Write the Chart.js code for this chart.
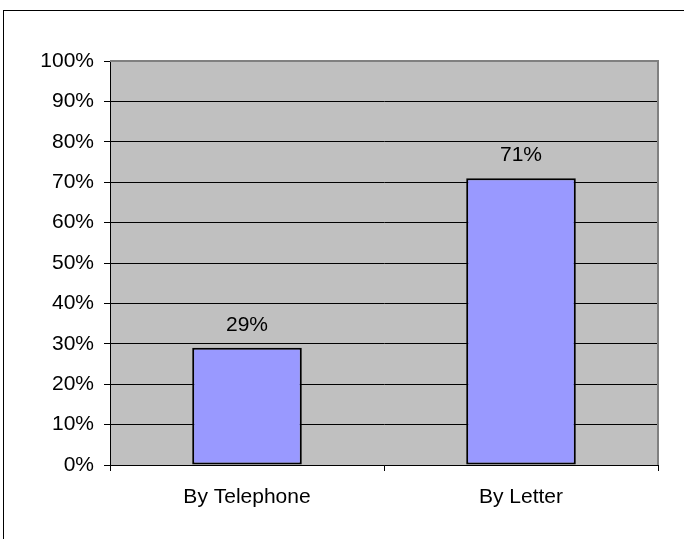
<!DOCTYPE html>
<html>
<head>
<meta charset="utf-8">
<script src="https://cdn.jsdelivr.net/npm/chart.js@4/dist/chart.umd.min.js"></script>
<style>
  html, body { margin: 0; padding: 0; background: #fff; }
  canvas { display: block; }
</style>
</head>
<body>
<canvas id="grafico" width="684" height="539"></canvas>
<script>
// Dati del grafico
const categorie = ['By Telephone', 'By Letter'];
const valori = [29, 71];
const tickY = [0, 10, 20, 30, 40, 50, 60, 70, 80, 90, 100];

const FONT = "'Liberation Sans', Arial, sans-serif";

// Plugin: bordo esterno, sfondo area grafico, bordi grigi, etichette
const decorazioni = {
    id: 'decorazioni',
    beforeDraw(chart) {
        const { ctx, chartArea: a } = chart;
        ctx.save();
        ctx.fillStyle = '#ffffff';
        ctx.fillRect(0, 0, chart.width, chart.height);
        // bordo esterno (lato sinistro e superiore)
        ctx.strokeStyle = '#000';
        ctx.lineWidth = 1;
        ctx.strokeRect(3.5, 10.5, chart.width + 10, chart.height + 10);
        // sfondo area
        ctx.fillStyle = '#c0c0c0';
        ctx.fillRect(a.left, a.top, a.right - a.left, a.bottom - a.top);
        ctx.restore();
    },
    afterDatasetsDraw(chart) {
        const { ctx, chartArea: a } = chart;
        ctx.save();
        // bordo grigio sopra e a destra
        ctx.strokeStyle = '#808080';
        ctx.lineWidth = 2;
        ctx.beginPath();
        ctx.moveTo(a.left, a.top);
        ctx.lineTo(a.right, a.top);
        ctx.lineTo(a.right, a.bottom);
        ctx.stroke();
        // etichette sopra le barre
        ctx.fillStyle = '#000';
        ctx.font = '21px ' + FONT;
        ctx.textAlign = 'center';
        ctx.textBaseline = 'middle';
        chart.getDatasetMeta(0).data.forEach((bar, i) => {
            ctx.fillText(valori[i] + '%', bar.x, bar.y - 23);
        });
        ctx.restore();
    }
};

new Chart(document.getElementById('grafico'), {
    type: 'bar',
    data: {
        labels: categorie,
        datasets: [{
            data: valori,
            backgroundColor: '#9999ff',
            borderColor: '#000000',
            borderWidth: 2,
            borderSkipped: false,
            categoryPercentage: 0.8,
            barPercentage: 0.5
        }]
    },
    options: {
        responsive: false,
        animation: false,
        devicePixelRatio: 1,
        layout: { padding: { top: 61, right: 26, left: 0, bottom: 0 } },
        plugins: {
            legend: { display: false },
            tooltip: { enabled: false }
        },
        scales: {
            x: {
                offset: true,
                grid: {
                    drawOnChartArea: false,
                    drawTicks: true,
                    tickLength: 6,
                    color: '#000',
                    offset: true
                },
                border: { display: true, color: '#000', width: 1 },
                ticks: {
                    color: '#000',
                    font: { family: FONT, size: 21 },
                    padding: 14,
                    maxRotation: 0
                },
                afterFit(scale) { scale.height = 74; }
            },
            y: {
                min: 0,
                max: 100,
                afterBuildTicks(scale) {
                    scale.ticks = tickY.map(v => ({ value: v }));
                },
                grid: {
                    color: '#000',
                    lineWidth: 1,
                    drawTicks: true,
                    tickLength: 6
                },
                border: { display: true, color: '#000', width: 1 },
                ticks: {
                    color: '#000',
                    font: { family: FONT, size: 21 },
                    padding: 10,
                    callback: v => v + '%'
                },
                afterFit(scale) { scale.width = 110; }
            }
        }
    },
    plugins: [decorazioni]
});
</script>
</body>
</html>
